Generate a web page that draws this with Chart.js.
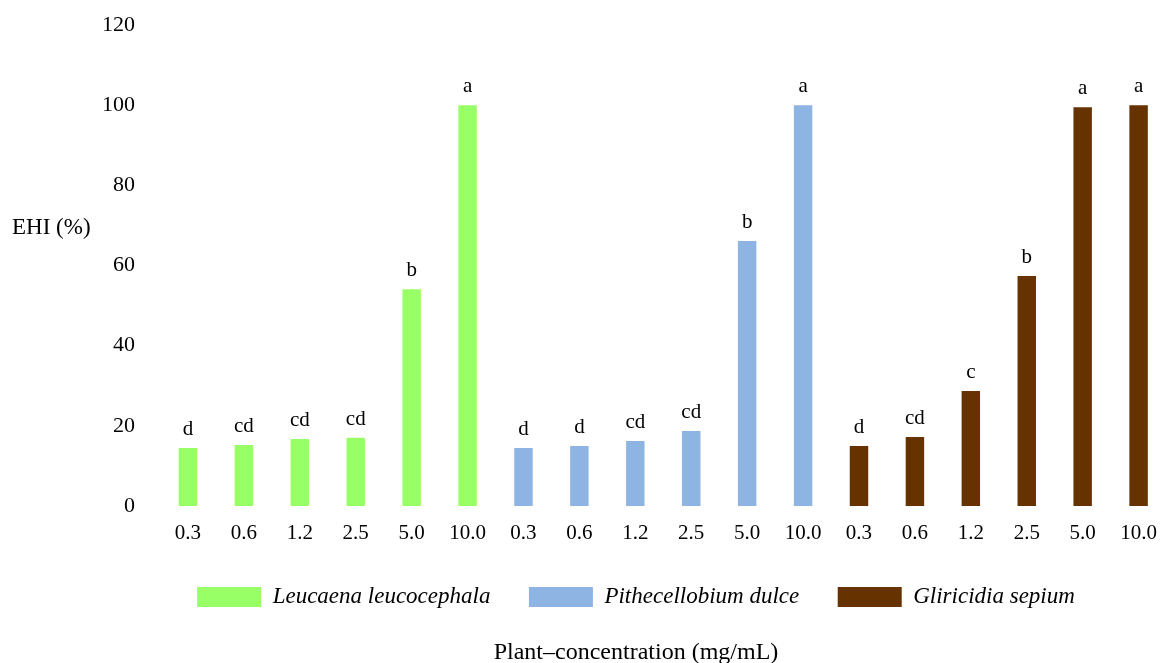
<!DOCTYPE html>
<html>
<head>
<meta charset="utf-8">
<script src="https://cdn.jsdelivr.net/npm/chart.js@4"></script>
<style>
html,body{margin:0;padding:0;background:#fff;}
#wrap{width:1172px;height:663px;}
</style>
</head>
<body>
<div id="wrap"><canvas id="c" width="1172" height="663"></canvas></div>
<script>
const concentrations = ["0.3","0.6","1.2","2.5","5.0","10.0","0.3","0.6","1.2","2.5","5.0","10.0","0.3","0.6","1.2","2.5","5.0","10.0"];
const plants = ["Leucaena leucocephala","Pithecellobium dulce","Gliricidia sepium"];
const leucaenaValues = [14.5, 15.2, 16.7, 17.0, 54.1, 100.0];
const pithecellobiumValues = [14.5, 15.0, 16.2, 18.7, 66.1, 100.0];
const gliricidiaValues = [15.0, 17.2, 28.7, 57.4, 99.5, 100.0];
const letters = ["d","cd","cd","cd","b","a","d","d","cd","cd","b","a","d","cd","c","b","a","a"];
const plantColors = ["#99FF66","#8EB4E3","#663300"];
const yTicks = [0,20,40,60,80,100,120];

const values = [...leucaenaValues, ...pithecellobiumValues, ...gliricidiaValues];
const barColors = [
  ...leucaenaValues.map(() => plantColors[0]),
  ...pithecellobiumValues.map(() => plantColors[1]),
  ...gliricidiaValues.map(() => plantColors[2])
];

const FONT = "'Liberation Serif', 'Times New Roman', serif";
const LEFT_PAD = 101;

const letterPlugin = {
  id: 'letters',
  afterDatasetsDraw(chart) {
    const ctx = chart.ctx;
    const meta = chart.getDatasetMeta(0);
    ctx.save();
    ctx.font = "21px " + FONT;
    ctx.fillStyle = "#000";
    ctx.textAlign = "center";
    ctx.textBaseline = "alphabetic";
    meta.data.forEach((bar, i) => {
      ctx.fillText(letters[i], bar.x, bar.y - 13);
    });
    ctx.restore();
  }
};

const yTitlePlugin = {
  id: 'yTitle',
  afterDraw(chart) {
    const ctx = chart.ctx;
    const y = chart.scales.y;
    ctx.save();
    ctx.font = "23px " + FONT;
    ctx.fillStyle = "#000";
    ctx.textAlign = "left";
    ctx.textBaseline = "middle";
    ctx.fillText("EHI (%)", 12, y.getPixelForValue(69.3));
    ctx.restore();
  }
};

new Chart(document.getElementById('c'), {
  type: 'bar',
  data: {
    labels: concentrations,
    datasets: [{
      data: values,
      backgroundColor: barColors,
      borderWidth: 0,
      barPercentage: 0.33,
      categoryPercentage: 1.0
    }]
  },
  options: {
    responsive: false,
    animation: false,
    layout: { padding: { top: 25, right: 1, left: LEFT_PAD, bottom: 0 } },
    scales: {
      x: {
        grid: { display: false, drawTicks: false },
        border: { display: false },
        ticks: { color: "#000", font: { family: FONT, size: 21 }, padding: 15, maxRotation: 0, autoSkip: false },
        afterFit(scale) { scale.height = 41; }
      },
      y: {
        min: 0, max: 120,
        grid: { display: false, drawTicks: false },
        border: { display: false },
        afterBuildTicks(scale) { scale.ticks = yTicks.map(v => ({ value: v })); },
        ticks: { color: "#000", font: { family: FONT, size: 22 }, padding: 25 },
        afterFit(scale) {
          scale.width = 160 - LEFT_PAD;
          scale.paddingTop = 10;
          scale.paddingBottom = 10;
        }
      }
    },
    plugins: {
      legend: {
        display: true,
        position: 'bottom',
        labels: {
          boxWidth: 64,
          boxHeight: 20,
          padding: 38.5,
          color: "#000",
          font: { family: FONT, size: 23, style: 'italic' },
          generateLabels() {
            return plants.map((p, i) => ({
              text: p,
              fillStyle: plantColors[i],
              strokeStyle: plantColors[i],
              lineWidth: 0,
              hidden: false,
              index: i
            }));
          }
        },
        onClick() {}
      },
      title: {
        display: true,
        position: 'bottom',
        text: "Plant\u2013concentration (mg/mL)",
        color: "#000",
        font: { family: FONT, size: 24, weight: 'normal' },
        padding: { top: 20.1, bottom: -4.4 }
      },
      tooltip: { enabled: false }
    }
  },
  plugins: [letterPlugin, yTitlePlugin]
});
</script>
</body>
</html>
